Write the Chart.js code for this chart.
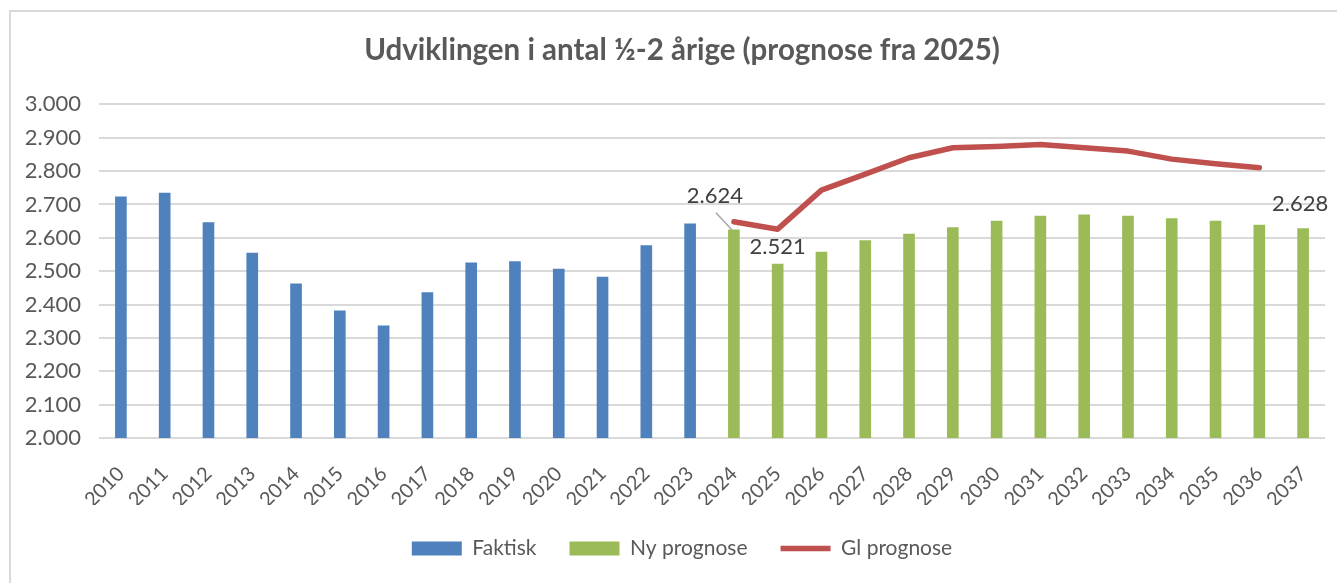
<!DOCTYPE html>
<html>
<head>
<meta charset="utf-8">
<script src="https://cdn.jsdelivr.net/npm/chart.js@4.4.1/dist/chart.umd.min.js"></script>
<style>
	html, body { margin: 0; padding: 0; background: #ffffff; overflow: hidden; }
	#frame { position: absolute; left: 9px; top: 10px; width: 1400px; height: 620px; border: 2px solid #d9d9d9; }
	#chart { position: absolute; left: 0; top: 0; }
</style>
</head>
<body>
<div id="frame"></div>
<canvas id="chart" width="1364" height="583"></canvas>
<script>

const years = ['2010', '2011', '2012', '2013', '2014', '2015', '2016', '2017', '2018', '2019', '2020', '2021', '2022', '2023',
	'2024', '2025', '2026', '2027', '2028', '2029', '2030', '2031', '2032', '2033', '2034', '2035', '2036', '2037'];

// 2010-2023
const faktisk = [2723, 2734, 2646, 2554, 2462, 2381, 2336, 2436, 2525, 2529, 2506, 2482, 2577, 2642];

// 2024-2037
const nyPrognose = [2624, 2521, 2557, 2592, 2611, 2631, 2650, 2665, 2669, 2665, 2658, 2650, 2638, 2628];

// 2024-2036
const glPrognose = [2648, 2626, 2743, 2791, 2840, 2870, 2874, 2880, 2870, 2860, 2836, 2822, 2810];

const forecastStart = years.indexOf('2024');

function spread(values, start) {
	return years.map((year, i) => {
		let k = i - start;
		return (k >= 0 && k < values.length) ? values[k] : null;
	});
}

function formatDK(value) {
	return String(Math.round(value)).replace(/\B(?=(\d{3})+(?!\d))/g, '.');
}

// which points get a value label, and where it sits relative to the bar top
const valueLabels = [
	{ dataset: 1, index: years.indexOf('2024'), dx: -19, dy: -34, leader: true },
	{ dataset: 1, index: years.indexOf('2025'), dx: 0, dy: -17 },
	{ dataset: 1, index: years.indexOf('2037'), dx: -3, dy: -25 }
];

const labelPlugin = {
	id: 'valueLabels',
	afterDatasetsDraw(chart) {
		const ctx = chart.ctx;
		ctx.save();
		ctx.font = '22px Lato, "Liberation Sans", sans-serif';
		ctx.fillStyle = '#404040';
		ctx.textAlign = 'center';
		ctx.textBaseline = 'middle';
		valueLabels.forEach((item) => {
			const bar = chart.getDatasetMeta(item.dataset).data[item.index];
			const value = chart.data.datasets[item.dataset].data[item.index];
			const x = bar.x + item.dx;
			const y = bar.y + item.dy;
			if(item.leader) {
				ctx.strokeStyle = '#a6a6a6';
				ctx.lineWidth = 1.5;
				ctx.beginPath();
				ctx.moveTo(x + 1, y + 17);
				ctx.lineTo(bar.x - 2, bar.y);
				ctx.stroke();
			}
			ctx.fillText(formatDK(value), x, y);
		});
		ctx.restore();
	}
};

Chart.defaults.font.family = 'Lato, "Liberation Sans", sans-serif';
Chart.defaults.color = '#595959';

new Chart(document.getElementById('chart'), {
	type: 'bar',
	plugins: [labelPlugin],
	data: {
		labels: years,
		datasets: [
			{
				label: 'Faktisk',
				data: spread(faktisk, 0),
				backgroundColor: '#4f81bd',
				grouped: false,
				barThickness: 11,
				pointStyle: 'rect'
			},
			{
				label: 'Ny prognose',
				data: spread(nyPrognose, forecastStart),
				backgroundColor: '#9bbb59',
				grouped: false,
				barThickness: 11,
				pointStyle: 'rect'
			},
			{
				label: 'Gl prognose',
				type: 'line',
				data: spread(glPrognose, forecastStart),
				borderColor: '#c0504d',
				backgroundColor: '#c0504d',
				borderWidth: 5.5,
				borderCapStyle: 'round',
				borderJoinStyle: 'round',
				pointRadius: 0,
				tension: 0,
				spanGaps: false,
				pointStyle: 'line'
			}
		]
	},
	options: {
		responsive: false,
		animation: false,
		events: [],
		layout: {
			padding: { top: 0, bottom: 14, left: 0, right: 0 }
		},
		scales: {
			x: {
				grid: { display: false },
				border: { display: false },
				ticks: {
					font: { size: 20 },
					color: '#595959',
					maxRotation: 45,
					minRotation: 45,
					autoSkip: false,
					padding: 16
				},
				afterFit: function(scale) {
					scale.height = 67;
				}
			},
			y: {
				min: 2000,
				max: 3000,
				grid: {
					color: '#d9d9d9',
					lineWidth: 2,
					drawTicks: false
				},
				border: { display: false },
				ticks: {
					stepSize: 100,
					font: { size: 22 },
					color: '#595959',
					padding: 18,
					callback: function(value) {
						return formatDK(value);
					}
				},
				afterFit: function(scale) {
					scale.width = 99;
				}
			},
			spacer: {
				position: 'right',
				display: true,
				grid: { display: false },
				border: { display: false },
				ticks: { display: false },
				afterFit: function(scale) {
					scale.width = 39;
				}
			}
		},
		plugins: {
			title: {
				display: true,
				text: 'Udviklingen i antal ½-2 årige (prognose fra 2025)',
				color: '#595959',
				font: { size: 29.5, weight: 'bold' },
				padding: { top: 33, bottom: 36 }
			},
			legend: {
				position: 'bottom',
				labels: {
					usePointStyle: true,
					pointStyleWidth: 50,
					boxHeight: 14,
					padding: 33,
					color: '#595959',
					font: { size: 21 }
				}
			},
			tooltip: { enabled: false }
		}
	}
});

</script>
</body>
</html>
